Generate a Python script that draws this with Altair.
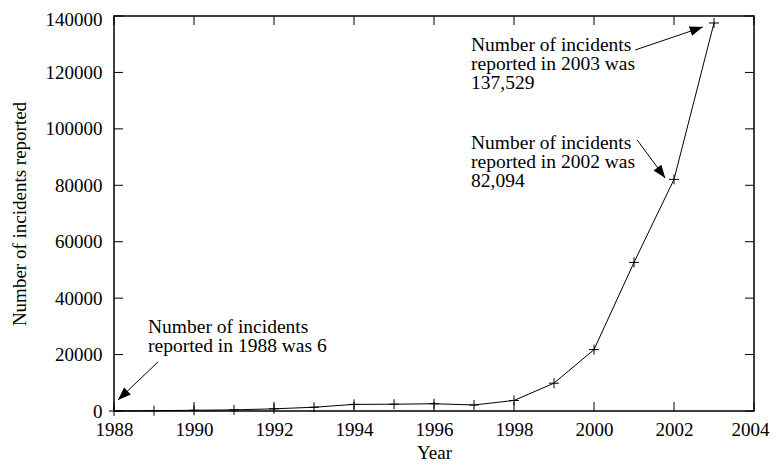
import math
import altair as alt
import pandas as pd

# ---- data ----
years = list(range(1988, 2004))
incidents = [6, 132, 252, 406, 773, 1334, 2340, 2412, 2573, 2134, 3734,
             9859, 21756, 52658, 82094, 137529]

x_ticks = list(range(1988, 2005, 2))
y_ticks = list(range(0, 140001, 20000))

# annotation arrows (data units)
arrow_x_from = [1989.10, 2001.03, 2001.08]
arrow_y_from = [17370, 127950, 96050]
arrow_x_to = [1988.10, 2002.72, 2001.78]
arrow_y_to = [3900, 136100, 82580]

# annotation text lines (data units)
text_lines = ["Number of incidents", "reported in 1988 was 6",
              "Number of incidents", "reported in 2003 was", "137,529",
              "Number of incidents", "reported in 2002 was", "82,094"]
text_x = [1988.85, 1988.85,
          1996.925, 1996.925, 1996.925,
          1996.925, 1996.925, 1996.925]
text_y = [29770, 23040,
          129720, 122990, 116250,
          94990, 88250, 81520]

# ---- layout ----
W, H = 640, 395
XMIN, XMAX = 1988, 2004
YMIN, YMAX = 0, 140000
FONT = "Liberation Serif"
FS = 19

xs = alt.Scale(domain=[XMIN, XMAX], nice=False, zero=False)
ys = alt.Scale(domain=[YMIN, YMAX], nice=False)

xaxis = alt.Axis(values=x_ticks, format="d", title="Year",
                 ticks=False, domain=False, grid=False, labelFlush=False,
                 labelOffset={"expr": "datum.value == %d ? -4 : 0" % XMAX},
                 labelPadding=9, titleY=47, titleBaseline="alphabetic")
yaxis = alt.Axis(values=y_ticks, format="d",
                 title="Number of incidents reported",
                 ticks=False, domain=False, grid=False, labelFlush=False,
                 labelOffset={"expr": "datum.value == %d ? 3 : 0" % YMAX},
                 labelPadding=12, titleX=-89, titleY=H / 2,
                 titleBaseline="alphabetic")

df = pd.DataFrame({"year": years, "n": incidents})

angles = []
for xf, yf, xt, yt in zip(arrow_x_from, arrow_y_from, arrow_x_to, arrow_y_to):
    dx = (xt - xf) * W / (XMAX - XMIN)
    dy = -(yt - yf) * H / (YMAX - YMIN)
    angles.append(math.degrees(math.atan2(dx, -dy)) % 360)
arrows = pd.DataFrame({"x": arrow_x_from, "y": arrow_y_from,
                       "x2": arrow_x_to, "y2": arrow_y_to, "ang": angles})
texts = pd.DataFrame({"x": text_x, "y": text_y, "t": text_lines})
xt_df = pd.DataFrame({"v": x_ticks})
yt_df = pd.DataFrame({"v": y_ticks})


def X(field):
    return alt.X(field, scale=xs, axis=xaxis)


def Y(field):
    return alt.Y(field, scale=ys, axis=yaxis)


line = alt.Chart(df).mark_line(color="black", strokeWidth=1).encode(
    x=X("year:Q"), y=Y("n:Q"))

points = alt.Chart(df).mark_point(
    shape="M-1,0L1,0M0,-1L0,1", size=100, filled=False,
    stroke="black", strokeWidth=1, opacity=1
).encode(x=X("year:Q"), y=Y("n:Q"))

tick_bottom = alt.Chart(xt_df).mark_rule(color="black", strokeWidth=1).encode(
    x=X("v:Q"), y=alt.value(H), y2=alt.value(H - 9))
tick_top = alt.Chart(xt_df).mark_rule(color="black", strokeWidth=1).encode(
    x=X("v:Q"), y=alt.value(0), y2=alt.value(9))
tick_left = alt.Chart(yt_df).mark_rule(color="black", strokeWidth=1).encode(
    y=Y("v:Q"), x=alt.value(0), x2=alt.value(9))
tick_right = alt.Chart(yt_df).mark_rule(color="black", strokeWidth=1).encode(
    y=Y("v:Q"), x=alt.value(W), x2=alt.value(W - 9))

shafts = alt.Chart(arrows).mark_rule(color="black", strokeWidth=1).encode(
    x=X("x:Q"), y=Y("y:Q"), x2="x2:Q", y2="y2:Q")

heads = alt.Chart(arrows).mark_point(
    shape="M0,0L-0.75,2L0.75,2Z", size=169, filled=True,
    color="black", opacity=1, strokeWidth=0
).encode(
    x=X("x2:Q"), y=Y("y2:Q"),
    angle=alt.Angle("ang:Q", scale=None),
)

labels = alt.Chart(texts).mark_text(
    align="left", baseline="middle", font=FONT, fontSize=19.5, color="black"
).encode(x=X("x:Q"), y=Y("y:Q"), text="t:N")

chart = alt.layer(
    line, points, tick_bottom, tick_top, tick_left, tick_right,
    shafts, heads, labels
).properties(
    width=W, height=H,
    autosize=alt.AutoSizeParams(type="none"),
    padding={"left": 106, "top": 8, "right": 16, "bottom": 54},
).configure(font=FONT, background="white").configure_view(
    stroke="black", strokeWidth=1.5
).configure_axis(
    labelFont=FONT, titleFont=FONT, labelFontSize=FS, titleFontSize=FS,
    labelColor="black", titleColor="black", titleFontWeight="normal"
)

chart.save("out.html", embed_options={"renderer": "svg", "actions": False})
